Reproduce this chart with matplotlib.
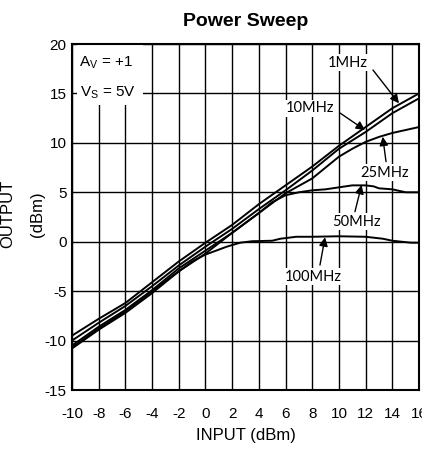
import matplotlib
matplotlib.use('Agg')
import matplotlib.pyplot as plt
from matplotlib.patches import Rectangle

plt.rcParams['font.family'] = ['Liberation Sans', 'DejaVu Sans']
plt.rcParams['mathtext.fontset'] = 'custom'
plt.rcParams['mathtext.rm'] = 'Liberation Sans'
plt.rcParams['mathtext.it'] = 'Liberation Sans'

# input power (dBm) -> output power (dBm)
in_1m = [-10, -8, -6, -4, -2, 0, 2, 4, 6, 8, 10, 12, 14, 16]
out_1m = [-9.5, -7.8, -6.2, -4.1, -2.0, -0.1, 1.7, 3.8, 5.7, 7.6, 9.7, 11.6, 13.5, 15.0]

in_10m = [-10, -8, -6, -4, -2, 0, 2, 4, 6, 8, 10, 12, 14, 16]
out_10m = [-10.0, -8.2, -6.5, -4.5, -2.4, -0.5, 1.3, 3.3, 5.2, 7.2, 9.4, 11.1, 13.0, 14.5]

in_25m = [-10, -8, -6, -4, -2, 0, 2, 4, 6, 8, 10, 11, 12, 13, 14, 15, 16]
out_25m = [-10.5, -8.6, -6.9, -4.9, -2.7, -0.9, 0.9, 2.9, 4.9, 6.4, 8.6, 9.4, 10.1, 10.6, 11.0, 11.3, 11.6]

in_50m = [-10, -8, -6, -4, -2, 0, 2, 4, 5, 6, 7, 8, 9, 10, 11, 12, 12.6, 13, 14, 15, 16]
out_50m = [-10.8, -8.9, -7.2, -5.2, -3.0, -1.2, 0.9, 2.9, 4.0, 4.7, 5.0, 5.2, 5.3, 5.5, 5.7, 5.7, 5.6, 5.4, 5.3, 5.0, 5.0]

in_100m = [-10, -8, -6, -4, -2, -1, 0, 1, 1.6, 2.6, 3.5, 5, 5.6, 6.8, 8, 10, 12, 13.3, 14, 15.4, 16]
out_100m = [-10.7, -8.8, -7.0, -5.0, -3.0, -2.0, -1.3, -0.8, -0.5, -0.1, 0.05, 0.1, 0.3, 0.5, 0.5, 0.55, 0.5, 0.3, 0.1, -0.1, -0.1]

x_ticks = list(range(-10, 17, 2))
y_ticks = list(range(-15, 21, 5))

# label text, label centre, arrow start, arrow tip
labels = ['1MHz', '10MHz', '25MHz', '50MHz', '100MHz']
label_pos = [(10.64, 18.1), (7.83, 13.5), (13.45, 6.98), (11.28, 2.03), (8.08, -3.54)]
arrow_from = [(12.55, 17.37), (10.08, 13.02), (13.53, 8.1), (11.2, 3.04), (8.58, -2.36)]
arrow_to = [(14.5, 14.0), (11.95, 11.3), (13.28, 10.62), (11.7, 5.74), (8.96, 0.45)]

fig = plt.figure(figsize=(4.22, 4.49), dpi=100)
ax = fig.add_axes([72 / 422, 1 - 390 / 449, 347 / 422, 346 / 449])

for xs, ys in [(in_1m, out_1m), (in_10m, out_10m), (in_25m, out_25m),
               (in_50m, out_50m), (in_100m, out_100m)]:
    ax.plot(xs, ys, color='black', lw=1.4, zorder=2)

ax.set_xlim(-10, 16)
ax.set_ylim(-15, 20)
ax.set_xticks(x_ticks)
ax.set_yticks(y_ticks)
ax.set_xticklabels([str(t) for t in x_ticks], fontsize=11)
ax.set_yticklabels([str(t) for t in y_ticks], fontsize=11)
ax.tick_params(length=0)
ax.tick_params(axis='x', pad=12)
ax.tick_params(axis='y', pad=4)
ax.set_axisbelow(True)
ax.grid(True, color='black', lw=1.0)
for s in ax.spines.values():
    s.set_linewidth(1.5)

ax.add_patch(Rectangle((0.015, 0.824), 0.19, 0.172, transform=ax.transAxes,
                       facecolor='white', edgecolor='none', zorder=1.5))
ax.text(0.02, 0.946, r'A$_\mathrm{V}$ = +1', transform=ax.transAxes,
        fontsize=11, ha='left', va='center', zorder=3)
ax.text(0.023, 0.859, r'V$_\mathrm{S}$ = 5V', transform=ax.transAxes,
        fontsize=11, ha='left', va='center', zorder=3)

for txt, p, a, b in zip(labels, label_pos, arrow_from, arrow_to):
    ax.text(p[0], p[1], txt, fontsize=10.5, family=['Lato', 'DejaVu Sans'],
            ha='center', va='center', zorder=4,
            bbox=dict(facecolor='white', edgecolor='none', pad=1))
    ax.annotate('', xy=b, xytext=a,
                arrowprops=dict(arrowstyle='-|>', color='black', lw=1.0,
                                mutation_scale=13, shrinkA=0, shrinkB=0),
                zorder=4)

ax.set_title('Power Sweep', fontsize=14, fontweight='bold', pad=13)
ax.set_xlabel('INPUT (dBm)', fontsize=12, labelpad=5)
# the "OUTPUT" line runs off the left edge in the source image
fig.text(8 / 422, 1 - 214 / 449, 'OUTPUT', rotation=90, fontsize=12,
         ha='center', va='center')
fig.text(38 / 422, 1 - 214 / 449, '(dBm)', rotation=90, fontsize=12,
         ha='center', va='center')

fig.savefig('out.png', dpi=100)
